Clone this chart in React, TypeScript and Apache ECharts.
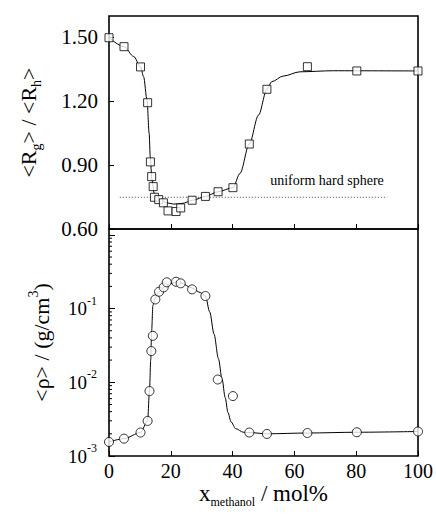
import React, { useEffect, useRef } from "react";
import * as echarts from "echarts";

// ---- data ----
const xTickValues = [0, 20, 40, 60, 80, 100];
const rgTickValues = [0.6, 0.9, 1.2, 1.5];

// <Rg>/<Rh> measured points (squares)
const rgX = [0, 4.85, 10.2, 12.5, 13.4, 13.8, 14.3, 14.7, 16.1, 17.6, 19.1, 21.7, 23.2, 26.9, 31.2, 35.3, 40.1, 45.4, 51.1, 64.2, 80.2, 100];
const rgY = [1.498, 1.456, 1.361, 1.193, 0.915, 0.846, 0.799, 0.749, 0.738, 0.723, 0.685, 0.682, 0.699, 0.735, 0.753, 0.775, 0.794, 0.999, 1.256, 1.362, 1.342, 1.342];

// <Rg>/<Rh> guide curve
const rgFitX = [0, 4.85, 8, 10.2, 11.2, 12.3, 13.0, 13.35, 13.9, 14.6, 16.6, 18.7, 20.9, 23.6, 27.3, 31.2, 35.3, 40.1, 42.4, 45.4, 48.4, 51.1, 52.7, 56.4, 61.8, 72.6, 100];
const rgFitY = [1.498, 1.456, 1.41, 1.361, 1.315, 1.206, 1.049, 0.939, 0.83, 0.768, 0.739, 0.723, 0.717, 0.72, 0.736, 0.753, 0.775, 0.794, 0.861, 0.999, 1.135, 1.256, 1.292, 1.318, 1.338, 1.343, 1.342];

// uniform hard sphere reference level
const hardSphereX = [3.5, 90];
const hardSphereY = [0.749, 0.749];
const hardSphereText = "uniform hard sphere";

// <rho> measured points (circles)
const rhoX = [0, 4.85, 10.2, 12.5, 13.1, 13.7, 14.2, 15.0, 16.2, 17.7, 18.7, 21.7, 23.2, 26.9, 31.2, 35.2, 40.1, 45.4, 51.1, 64.2, 80.2, 100];
const rhoY = [0.00155, 0.00172, 0.00208, 0.00299, 0.0076, 0.0265, 0.0427, 0.133, 0.169, 0.194, 0.227, 0.231, 0.22, 0.182, 0.148, 0.0109, 0.0065, 0.00208, 0.00199, 0.00205, 0.0021, 0.00215];

// <rho> guide curve
const rhoFitX = [0, 4.85, 10.2, 12.5, 13.1, 13.5, 13.8, 14.2, 14.8, 16.2, 17.7, 19.5, 21.7, 23.2, 26.9, 29.5, 31.2, 32.6, 34.0, 35.4, 36.6, 37.6, 38.5, 39.5, 41.0, 43.5, 45.4, 51.1, 64.2, 80.2, 100];
const rhoFitY = [0.00155, 0.00172, 0.00208, 0.003, 0.0076, 0.02, 0.05, 0.11, 0.135, 0.169, 0.194, 0.215, 0.228, 0.222, 0.19, 0.165, 0.148, 0.09, 0.045, 0.021, 0.011, 0.0062, 0.0039, 0.0029, 0.00235, 0.0021, 0.00208, 0.002, 0.00205, 0.0021, 0.00215];

// log-axis minor tick values (2..9 in each decade)
const rhoMinorTicks = [
  0.002, 0.003, 0.004, 0.005, 0.006, 0.007, 0.008, 0.009,
  0.02, 0.03, 0.04, 0.05, 0.06, 0.07, 0.08, 0.09,
  0.2, 0.3, 0.4, 0.5, 0.6, 0.7, 0.8, 0.9,
];

const FONT = "Liberation Serif, Times New Roman, serif";

const zip = (xs: number[], ys: number[]) => xs.map((x, i) => [x, ys[i]]);

export default function App() {
  const ref = useRef<HTMLDivElement>(null);
  useEffect(() => {
    if (!ref.current) return;
    const chart = echarts.init(ref.current, null, { renderer: "svg" });
    const black = "#000";
    const tickStyle = { color: black, width: 1 };
    const option: any = {
      animation: false,
      backgroundColor: "#fff",
      textStyle: { fontFamily: FONT },
      grid: [
        { left: 109, right: 18, top: 16, height: 213, show: true, borderColor: black, borderWidth: 1.6, backgroundColor: "transparent" },
        { left: 109, right: 18, top: 229, height: 227, show: true, borderColor: black, borderWidth: 1.6, backgroundColor: "transparent" },
      ],
      xAxis: [
        {
          gridIndex: 0, type: "value", min: xTickValues[0], max: xTickValues[xTickValues.length - 1], interval: 20,
          axisLine: { show: false }, axisTick: { inside: true, length: 5, lineStyle: tickStyle },
          axisLabel: { show: false }, splitLine: { show: false },
        },
        {
          gridIndex: 1, type: "value", min: xTickValues[0], max: xTickValues[xTickValues.length - 1], interval: 20,
          axisLine: { show: false }, axisTick: { inside: true, length: 5, lineStyle: tickStyle },
          axisLabel: { color: black, fontFamily: FONT, fontSize: 20, margin: 5 },
          splitLine: { show: false },
          name: "{a|x}{sub|methanol}{a| / mol%}",
          nameLocation: "middle", nameGap: 15,
          nameTextStyle: {
            color: black, fontFamily: FONT, fontSize: 22,
            rich: {
              a: { fontFamily: FONT, fontSize: 23, lineHeight: 30, color: black },
              sub: { fontFamily: FONT, fontSize: 12, lineHeight: 12, verticalAlign: "bottom", color: black },
            },
          },
        },
      ],
      yAxis: [
        {
          gridIndex: 0, type: "value", min: 0.6, max: 1.6, interval: 0.3,
          axisLine: { show: false }, axisTick: { inside: true, length: 5, lineStyle: tickStyle },
          axisLabel: {
            color: black, fontFamily: FONT, fontSize: 21, margin: 11, showMaxLabel: false,
            formatter: (v: number) => (rgTickValues.some((t) => Math.abs(t - v) < 1e-6) ? v.toFixed(2) : ""),
          },
          splitLine: { show: false },
          name: "{a|<R}{sub|g}{a|> / <R}{sub|h}{a|>}",
          nameLocation: "middle", nameGap: 66,
          nameTextStyle: {
            color: black, fontFamily: FONT, fontSize: 22,
            rich: {
              a: { fontFamily: FONT, fontSize: 22, lineHeight: 30, color: black },
              sub: { fontFamily: FONT, fontSize: 14, lineHeight: 13, verticalAlign: "bottom", color: black },
            },
          },
        },
        {
          gridIndex: 1, type: "log", logBase: 10, min: 0.001, max: 1.2,
          axisLine: { show: false }, axisTick: { inside: true, length: 6, lineStyle: tickStyle },
          minorTick: { show: false },
          axisLabel: {
            color: black, fontFamily: FONT, margin: 12, showMaxLabel: false,
            formatter: (v: number) => {
              if (v > 0.5) return "";
              const e = Math.round(Math.log10(v));
              return "{b|10}{s|" + e + "}";
            },
            rich: {
              b: { fontFamily: FONT, fontSize: 19, lineHeight: 28, color: black },
              s: { fontFamily: FONT, fontSize: 12, lineHeight: 12, verticalAlign: "top", color: black },
            },
          },
          splitLine: { show: false },
          name: "{a|<ρ> / (g/cm}{sup|3}{a|)}",
          nameLocation: "middle", nameGap: 53,
          nameTextStyle: {
            color: black, fontFamily: FONT, fontSize: 22,
            rich: {
              a: { fontFamily: FONT, fontSize: 22, lineHeight: 30, color: black },
              sup: { fontFamily: FONT, fontSize: 14, lineHeight: 13, verticalAlign: "top", color: black },
            },
          },
        },
      ],
      graphic: [
        {
          type: "text", x: 327, y: 180,
          style: { text: hardSphereText, fill: black, fontFamily: FONT, fontSize: 14, textAlign: "center", textVerticalAlign: "middle" },
        },
      ],
      series: [
        {
          type: "line", xAxisIndex: 0, yAxisIndex: 0, data: zip(rgFitX, rgFitY), smooth: 0.3, smoothMonotone: "x",
          showSymbol: false, lineStyle: { color: black, width: 1 }, z: 2,
        },
        {
          type: "line", xAxisIndex: 0, yAxisIndex: 0, data: zip(hardSphereX, hardSphereY),
          showSymbol: false, lineStyle: { color: "#444", width: 1, type: [1, 2] }, z: 1,
        },
        {
          type: "scatter", xAxisIndex: 0, yAxisIndex: 0, data: zip(rgX, rgY), symbol: "rect", symbolSize: 8,
          itemStyle: { color: "#fff", borderColor: black, borderWidth: 1 }, z: 3,
        },
        {
          type: "line", xAxisIndex: 1, yAxisIndex: 1, data: zip(rhoFitX, rhoFitY), smooth: 0.3, smoothMonotone: "x",
          showSymbol: false, lineStyle: { color: black, width: 1 }, z: 2,
        },
        {
          type: "scatter", xAxisIndex: 1, yAxisIndex: 1, data: zip(rhoX, rhoY), symbol: "circle", symbolSize: 9,
          itemStyle: { color: "#fff", borderColor: black, borderWidth: 1 }, z: 3,
        },
        {
          type: "custom", xAxisIndex: 1, yAxisIndex: 1, silent: true, clip: false, z: 4,
          data: rhoMinorTicks.map((v) => [0, v]),
          renderItem: (_params: any, api: any) => {
            const p = api.coord([api.value(0), api.value(1)]);
            return {
              type: "line",
              shape: { x1: p[0], y1: p[1], x2: p[0] + 3, y2: p[1] },
              style: { stroke: black, lineWidth: 1 },
            };
          },
        },
      ],
    };
    chart.setOption(option);
    return () => chart.dispose();
  }, []);
  return <div ref={ref} style={{ position: "fixed", left: 0, top: 0, width: 436, height: 519 }} />;
}
